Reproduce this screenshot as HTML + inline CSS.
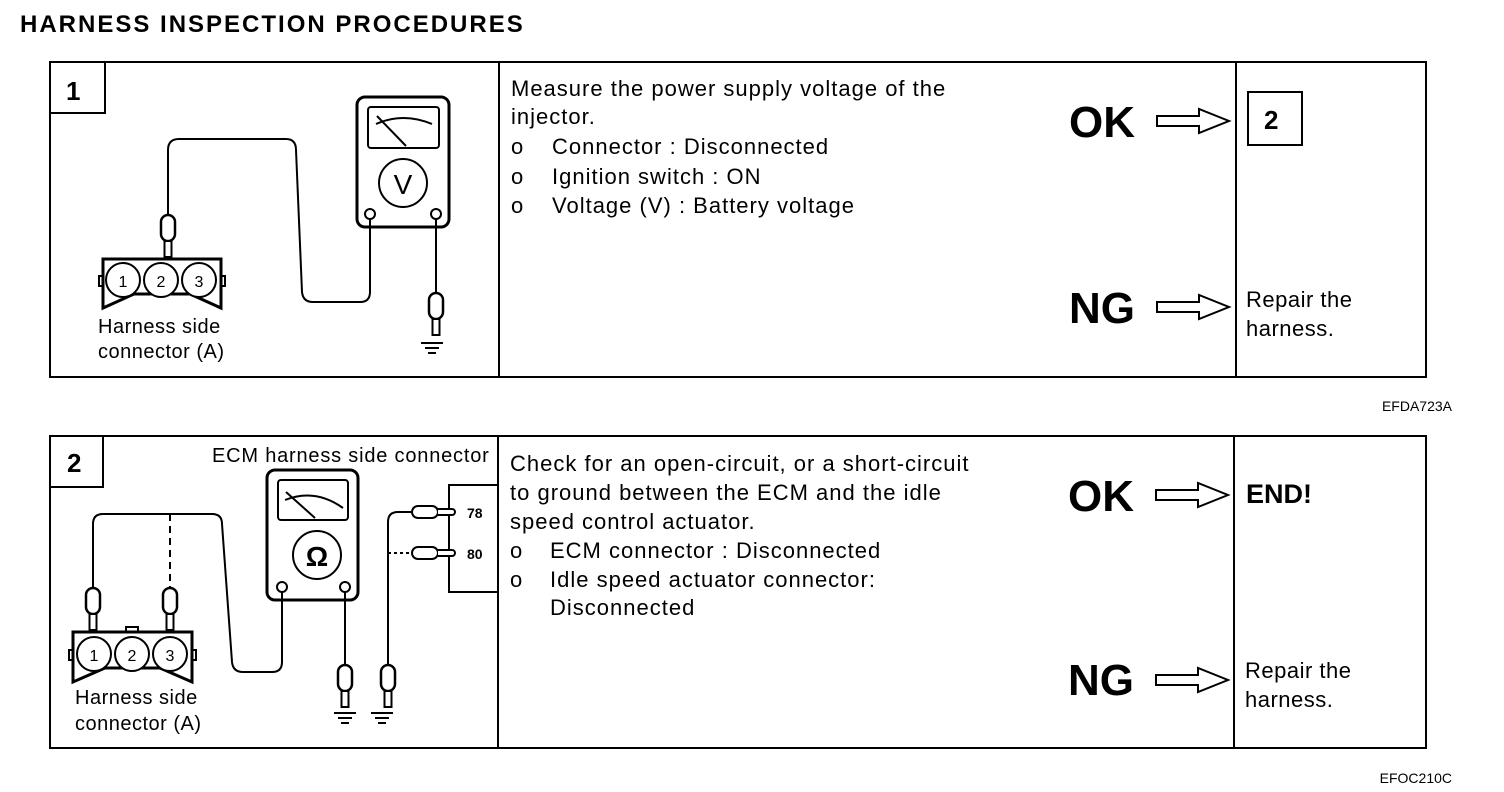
<!DOCTYPE html>
<html><head><style>body{margin:0;background:#fff}svg{display:block}text{font-family:"Liberation Sans",sans-serif;fill:#000}</style></head><body>
<svg width="1504" height="792" viewBox="0 0 1504 792" xmlns="http://www.w3.org/2000/svg">
<defs>
<g id="arrow"><path d="M0,-5 H42 V-12 L72,0 L42,12 V5 H0 Z" fill="#fff" stroke="#000" stroke-width="2"/></g>
<g id="probe"><rect x="-7" y="0" width="14" height="26" rx="7" fill="#fff" stroke="#000" stroke-width="2.5"/><rect x="-3.5" y="26" width="7" height="16" fill="#fff" stroke="#000" stroke-width="2"/></g>
<g id="gnd"><line x1="-11" y1="0" x2="11" y2="0" stroke="#000" stroke-width="2"/><line x1="-7" y1="5" x2="7" y2="5" stroke="#000" stroke-width="2"/><line x1="-4" y1="10" x2="4" y2="10" stroke="#000" stroke-width="2"/></g>
</defs>
<text x="20" y="32" font-size="24" font-weight="bold" letter-spacing="2">HARNESS INSPECTION PROCEDURES</text>
<!-- Panel 1 -->
<g fill="none" stroke="#000" stroke-width="2">
<rect x="50" y="62" width="1376" height="315"/>
<line x1="499" y1="62" x2="499" y2="377"/>
<line x1="1236" y1="62" x2="1236" y2="377"/>
<path d="M50,113 H105 V62"/>
<rect x="1248" y="92" width="54" height="53"/>
<rect x="357" y="97" width="92" height="130" rx="8" stroke-width="3"/>
<rect x="368" y="107" width="71" height="41" rx="3"/>
<path d="M376,124 Q403,112 432,124"/><line x1="377" y1="116" x2="406" y2="146"/>
<circle cx="403" cy="183" r="24"/>
<circle cx="370" cy="214" r="5"/><circle cx="436" cy="214" r="5"/>
<path d="M168,217 V150 Q168,139 179,139 H286 Q296,139 296,150 L302,292 Q303,302 313,302 H360 Q370,302 370,292 V219"/>
<line x1="436" y1="219" x2="436" y2="294"/>
<path d="M103,259 H221 V308 L190,294 H134 L103,308 Z" stroke-width="3"/>
<path d="M103,276 H99 V286 H103 M221,276 H225 V286 H221"/>
<circle cx="123" cy="280" r="17" fill="#fff"/><circle cx="161" cy="280" r="17" fill="#fff"/><circle cx="199" cy="280" r="17" fill="#fff"/>
</g>
<text x="403" y="194" font-size="28" text-anchor="middle">V</text>
<text x="123" y="287" font-size="16" text-anchor="middle">1</text><text x="161" y="287" font-size="16" text-anchor="middle">2</text><text x="199" y="287" font-size="16" text-anchor="middle">3</text>
<use href="#probe" x="168" y="215"/>
<use href="#probe" x="436" y="293"/>
<use href="#gnd" x="432" y="343"/>
<text x="98" y="333" font-size="20" letter-spacing="0.5">Harness side</text>
<text x="98" y="358" font-size="20" letter-spacing="0.5">connector (A)</text>
<text x="66" y="100" font-size="26" font-weight="bold">1</text>
<g font-size="22" letter-spacing="1">
<text x="511" y="96">Measure the power supply voltage of the</text>
<text x="511" y="124">injector.</text>
<text x="511" y="154">o</text><text x="552" y="154">Connector : Disconnected</text>
<text x="511" y="184">o</text><text x="552" y="184">Ignition switch : ON</text>
<text x="511" y="213">o</text><text x="552" y="213">Voltage (V) : Battery voltage</text>
</g>
<text x="1069" y="137" font-size="44" font-weight="bold">OK</text>
<use href="#arrow" x="1157" y="121"/>
<text x="1264" y="129" font-size="26" font-weight="bold">2</text>
<text x="1069" y="323" font-size="44" font-weight="bold">NG</text>
<use href="#arrow" x="1157" y="307"/>
<text x="1246" y="307" font-size="22" letter-spacing="0.5">Repair the</text>
<text x="1246" y="336" font-size="22" letter-spacing="0.5">harness.</text>
<text x="1452" y="411" font-size="14" text-anchor="end">EFDA723A</text>
<!-- Panel 2 -->
<g fill="none" stroke="#000" stroke-width="2">
<rect x="50" y="436" width="1376" height="312"/>
<line x1="498" y1="436" x2="498" y2="748"/>
<line x1="1234" y1="436" x2="1234" y2="748"/>
<path d="M50,487 H103 V436"/>
<rect x="267" y="470" width="91" height="130" rx="8" stroke-width="3"/>
<rect x="278" y="480" width="70" height="40" rx="3"/>
<path d="M285,500 Q315,488 343,508"/><line x1="286" y1="492" x2="315" y2="518"/>
<circle cx="317" cy="555" r="24"/>
<circle cx="282" cy="587" r="5"/><circle cx="345" cy="587" r="5"/>
<path d="M93,590 V524 Q93,514 103,514 H212 Q222,514 222,524 L232,662 Q233,672 243,672 H272 Q282,672 282,662 V592"/>
<line x1="170" y1="514" x2="170" y2="590" stroke-dasharray="7,5"/>
<line x1="345" y1="592" x2="345" y2="667"/>
<path d="M498,485 H449 V592 H498"/>
<path d="M412,512 H398 Q388,512 388,522 V667"/>
<line x1="388" y1="553" x2="412" y2="553" stroke-dasharray="3,3"/>
<path d="M73,632 H192 V682 L160,668 H105 L73,682 Z" stroke-width="3"/>
<path d="M73,650 H69 V660 H73 M192,650 H196 V660 H192 M126,632 V627 H138 V632"/>
<circle cx="94" cy="654" r="17" fill="#fff"/><circle cx="132" cy="654" r="17" fill="#fff"/><circle cx="170" cy="654" r="17" fill="#fff"/>
</g>
<g fill="#fff" stroke="#000" stroke-width="2">
<rect x="412" y="506" width="26" height="12" rx="6"/><path d="M438,509 H452 A3,3 0 0 1 452,515 H438"/>
<rect x="412" y="547" width="26" height="12" rx="6"/><path d="M438,550 H452 A3,3 0 0 1 452,556 H438"/>
</g>
<text x="467" y="518" font-size="14" font-weight="bold">78</text>
<text x="467" y="559" font-size="14" font-weight="bold">80</text>
<text x="317" y="566" font-size="28" font-weight="bold" text-anchor="middle">Ω</text>
<text x="94" y="661" font-size="16" text-anchor="middle">1</text><text x="132" y="661" font-size="16" text-anchor="middle">2</text><text x="170" y="661" font-size="16" text-anchor="middle">3</text>
<use href="#probe" x="93" y="588"/>
<use href="#probe" x="170" y="588"/>
<use href="#probe" x="345" y="665"/>
<use href="#probe" x="388" y="665"/>
<use href="#gnd" x="345" y="713"/>
<use href="#gnd" x="382" y="713"/>
<text x="75" y="704" font-size="20" letter-spacing="0.5">Harness side</text>
<text x="75" y="730" font-size="20" letter-spacing="0.5">connector (A)</text>
<text x="212" y="462" font-size="20" letter-spacing="0.8">ECM harness side connector</text>
<text x="67" y="472" font-size="26" font-weight="bold">2</text>
<g font-size="22" letter-spacing="1">
<text x="510" y="471">Check for an open-circuit, or a short-circuit</text>
<text x="510" y="500">to ground between the ECM and the idle</text>
<text x="510" y="529">speed control actuator.</text>
<text x="510" y="558">o</text><text x="550" y="558">ECM connector : Disconnected</text>
<text x="510" y="587">o</text><text x="550" y="587">Idle speed actuator connector:</text>
<text x="550" y="615">Disconnected</text>
</g>
<text x="1068" y="511" font-size="44" font-weight="bold">OK</text>
<use href="#arrow" x="1156" y="495"/>
<text x="1246" y="503" font-size="27" font-weight="bold">END!</text>
<text x="1068" y="695" font-size="44" font-weight="bold">NG</text>
<use href="#arrow" x="1156" y="680"/>
<text x="1245" y="678" font-size="22" letter-spacing="0.5">Repair the</text>
<text x="1245" y="707" font-size="22" letter-spacing="0.5">harness.</text>
<text x="1452" y="783" font-size="14" text-anchor="end">EFOC210C</text>
</svg>
</body></html>
